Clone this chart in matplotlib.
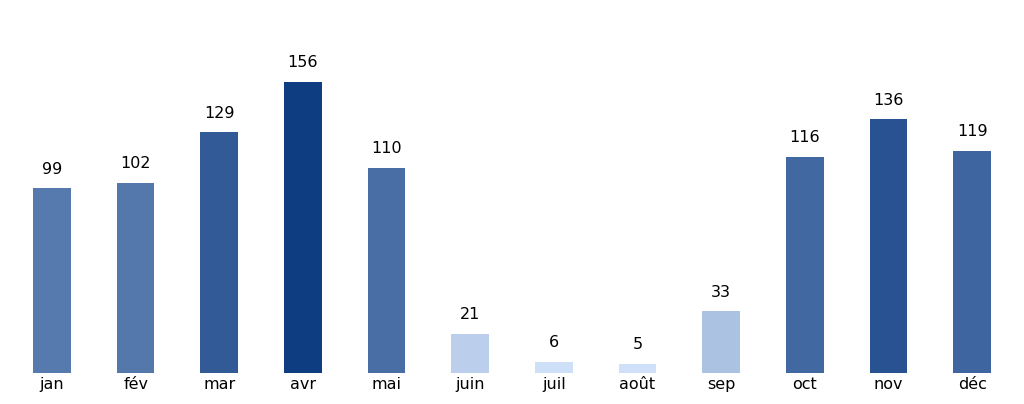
import matplotlib
matplotlib.use("Agg")
import matplotlib.pyplot as plt
import numpy as np
from matplotlib.colors import LinearSegmentedColormap, Normalize

# données mensuelles
months = ["jan", "fév", "mar", "avr", "mai", "juin", "juil", "août", "sep", "oct", "nov", "déc"]
values = [99, 102, 129, 156, 110, 21, 6, 5, 33, 116, 136, 119]

cmap = LinearSegmentedColormap.from_list("bleus", ["#cfe0f8", "#0f3d82"])
norm = Normalize(vmin=min(values), vmax=max(values))
colors = [cmap(norm(v)) for v in values]

fig = plt.figure(figsize=(10.24, 4.04), dpi=100)
ax = fig.add_axes([0.00996, 0.0767, 0.9802, 0.9233])

x = np.arange(len(months))
bars = ax.bar(x, values, width=0.45, color=colors)
for b, v in zip(bars, values):
    ax.annotate(str(v), (b.get_x() + b.get_width() / 2, v), xytext=(0, 8.5),
                textcoords="offset points", ha="center", va="bottom", fontsize=11.5)

ax.set_xlim(-0.5, len(months) - 0.5)
ax.set_ylim(0, 200)
ax.set_xticks(x)
ax.set_xticklabels(months, fontsize=11.5)
ax.tick_params(axis="x", length=0, pad=3)
ax.set_yticks([])
for s in ax.spines.values():
    s.set_visible(False)

fig.savefig("out.png", dpi=100)
